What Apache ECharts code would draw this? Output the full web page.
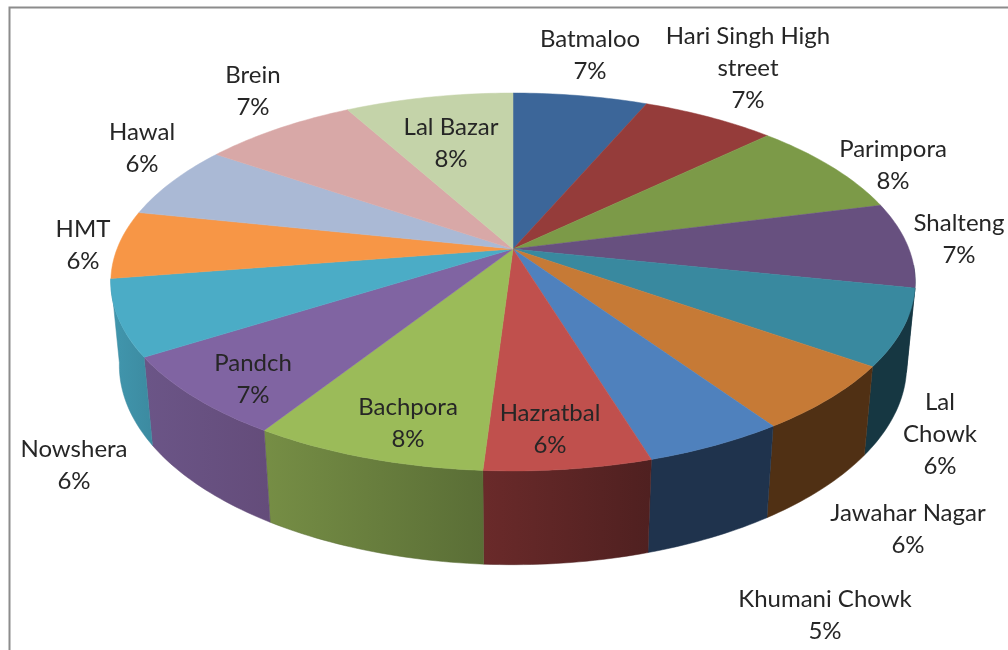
<!DOCTYPE html>
<html>
<head>
<meta charset="utf-8">
<style>
  html, body { margin: 0; padding: 0; background: #fff; }
  #chart { width: 1008px; height: 650px; }
</style>
</head>
<body>
<div id="chart"></div>
<script src="https://cdn.jsdelivr.net/npm/echarts@6/dist/echarts.min.js"></script>
<script>
const categories = ['Batmaloo', 'Hari Singh High\nstreet', 'Parimpora', 'Shalteng', 'Lal\nChowk', 'Jawahar Nagar', 'Khumani Chowk', 'Hazratbal', 'Bachpora', 'Pandch', 'Nowshera', 'HMT', 'Hawal', 'Brein', 'Lal Bazar']
// slice sizes, the printed labels are rounded differently
const shares = [6.4, 6.4, 8.2, 7.3, 6.5, 5.7, 4.8, 5.7, 8.0, 7.0, 6.5, 5.8, 6.3, 7.4, 8.0]
const percentLabels = ['7%', '7%', '8%', '7%', '6%', '6%', '5%', '6%', '8%', '7%', '6%', '6%', '6%', '7%', '8%']

const topColors = ['#3c6699', '#953c3a', '#7c9a48', '#67507f', '#39899f', '#c67a36', '#4f81bd', '#c0504d', '#9bbb59', '#8064a2', '#4bacc6', '#f79646', '#aab9d5', '#d8a8a7', '#c4d3a9']
// side wall colours, left and right end of each slice
const wallColors = [
  ['#2a4a70', '#2a4a70'], ['#6c2c2a', '#6c2c2a'], ['#5a7034', '#5a7034'], ['#163742', '#163742'],
  ['#163742', '#163742'], ['#503014', '#503014'], ['#1f334d', '#1f334d'], ['#6a2a2a', '#4f2020'],
  ['#768e45', '#5a6e36'], ['#6b5587', '#644c7a'], ['#4197ae', '#3c8aa0'], ['#b06a30', '#b06a30'],
  ['#7a859a', '#7a859a'], ['#9a7877', '#9a7877'], ['#8c9779', '#8c9779']
]
// centre of each label block
const labelCenters = [[590, 55], [748, 68], [893, 165], [959, 239], [940, 434], [908, 529], [825, 615], [550, 429], [408, 423], [253, 379], [74, 465], [83, 245], [142, 148], [253, 91], [451, 143]]

// perspective of the disc
const view = { cx: 513, cy: 249, a: 396, b: 183.2, p: 0.1746, h: 84, q: 0.021 }
const wallFrom = 95
const wallTo = 260.9

function project(deg, bottom) {
  const t = deg * Math.PI / 180
  const x = Math.sin(t)
  const z = Math.cos(t)
  const w = 1 + view.p * z + (bottom ? view.q : 0)
  return [view.cx + view.a * x / w, view.cy + (-view.b * z + (bottom ? view.h : 0)) / w]
}

const total = shares.reduce((s, v) => s + v, 0)
const angles = [0]
shares.forEach((v, i) => angles.push(angles[i] + v / total * 360))

function arc(from, to, bottom) {
  const pts = []
  const n = Math.max(2, Math.ceil(Math.abs(to - from)))
  for (let i = 0; i <= n; i++) {
    pts.push(project(from + (to - from) * i / n, bottom))
  }
  return pts
}

function renderWall(params) {
  const i = params.dataIndex
  const from = Math.max(angles[i], wallFrom)
  const to = Math.min(angles[i + 1], wallTo)
  if (to <= from) return null
  const pts = arc(from, to, false).concat(arc(to, from, true))
  // angle grows to the left on the front side, so the gradient runs by screen x
  const fill = new echarts.graphic.LinearGradient(0, 0, 1, 0, [
    { offset: 0, color: wallColors[i][0] },
    { offset: 1, color: wallColors[i][1] }
  ])
  return {
    type: 'polygon',
    shape: { points: pts },
    style: { fill: fill, stroke: wallColors[i][1], lineWidth: 0.5 }
  }
}

function renderTop(params) {
  const i = params.dataIndex
  const pts = [[view.cx, view.cy]].concat(arc(angles[i], angles[i + 1], false))
  return {
    type: 'polygon',
    shape: { points: pts },
    style: { fill: topColors[i], stroke: topColors[i], lineWidth: 0.5 }
  }
}

function renderLabel(params) {
  const i = params.dataIndex
  return {
    type: 'text',
    style: {
      text: categories[i] + '\n' + percentLabels[i],
      x: labelCenters[i][0],
      y: labelCenters[i][1],
      align: 'center',
      verticalAlign: 'middle',
      fill: '#262626',
      font: '24px Lato',
      lineHeight: 32
    }
  }
}

const chart = echarts.init(document.getElementById('chart'))
chart.setOption({
  animation: false,
  backgroundColor: '#fff',
  graphic: [{
    type: 'polyline',
    shape: { points: [[9.5, 650], [9.5, 7.5], [1008, 7.5]] },
    style: { stroke: '#8c8c8c', lineWidth: 2, fill: 'none' }
  }],
  series: [
    { type: 'custom', coordinateSystem: 'none', data: shares, renderItem: renderWall, z: 1 },
    { type: 'custom', coordinateSystem: 'none', data: shares, renderItem: renderTop, z: 2 },
    { type: 'custom', coordinateSystem: 'none', data: shares, renderItem: renderLabel, z: 3 }
  ]
})
</script>
</body>
</html>
